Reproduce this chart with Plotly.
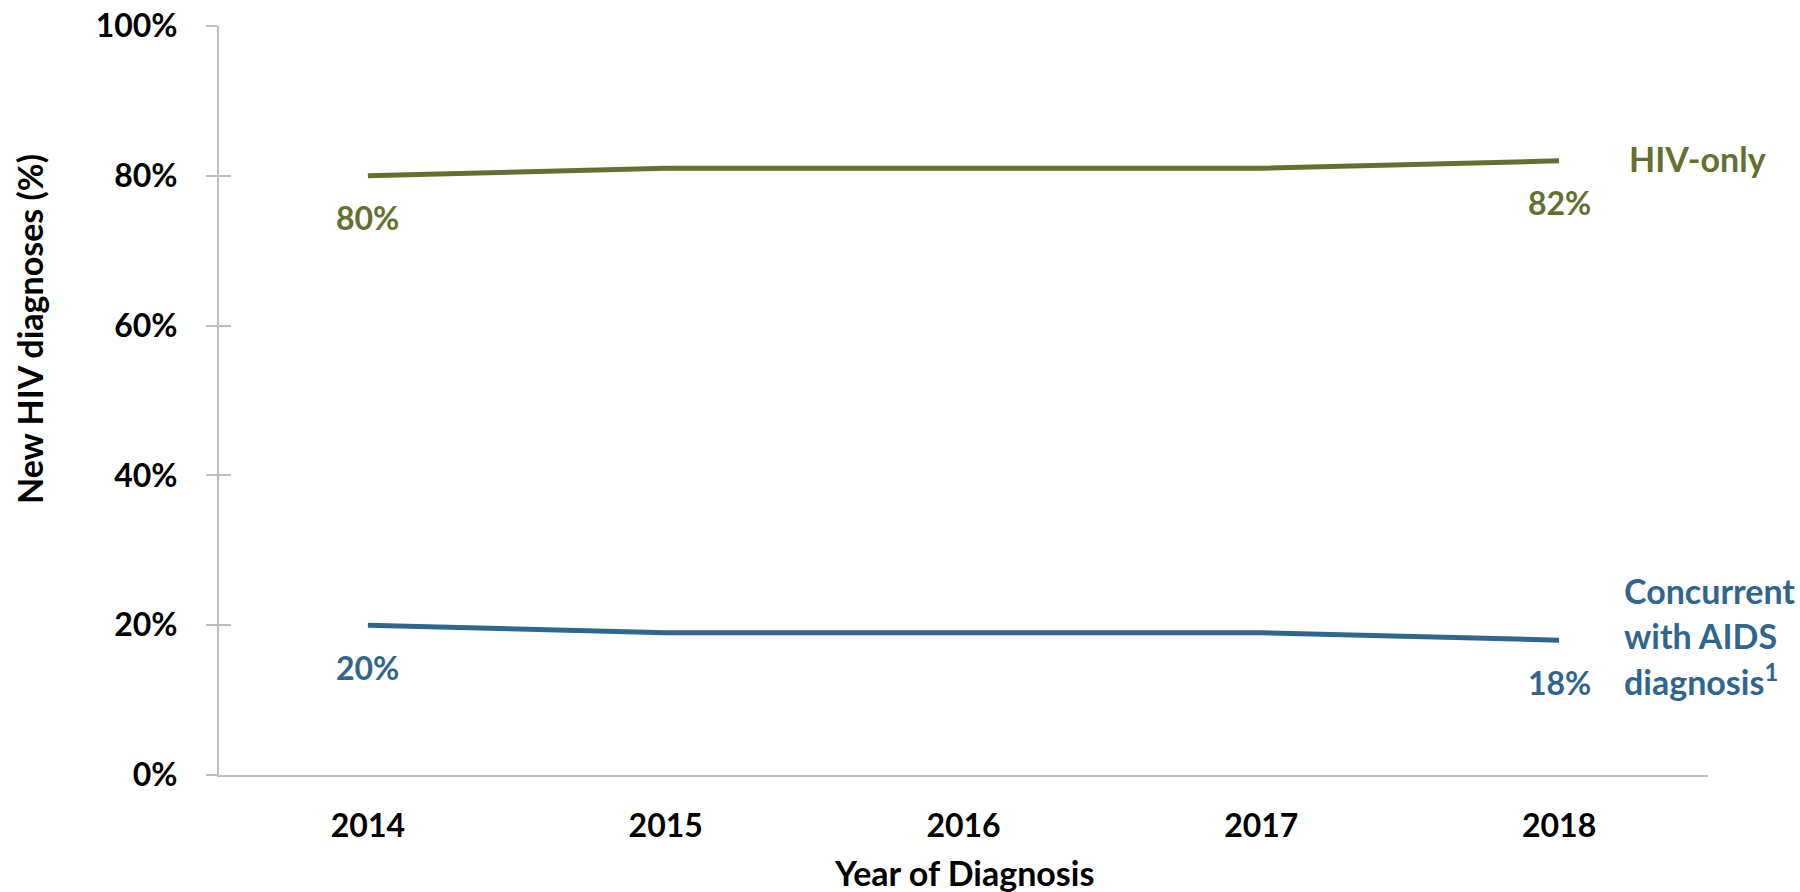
import plotly.graph_objects as go

years = ["2014", "2015", "2016", "2017", "2018"]
hiv_only = [80, 81, 81, 81, 82]
concurrent = [20, 19, 19, 19, 18]
y_ticks = [0, 20, 40, 60, 80, 100]
y_tick_labels = ["0%", "20%", "40%", "60%", "80%", "100%"]
label_points = [0, 4]

GREEN = "#64702F"
BLUE = "#2F6690"
FONT = "Lato"
FS_TICK = 32
FS_TEXT = 34

fig = go.Figure()
fig.add_trace(go.Scatter(x=years, y=hiv_only, mode="lines",
                         line=dict(color=GREEN, width=5), showlegend=False,
                         hoverinfo="skip"))
fig.add_trace(go.Scatter(x=years, y=concurrent, mode="lines",
                         line=dict(color=BLUE, width=5), showlegend=False,
                         hoverinfo="skip"))
# invisible trace on overlay axis to carry the inner tick marks
fig.add_trace(go.Scatter(x=years, y=hiv_only, yaxis="y2", mode="lines",
                         line=dict(width=0), opacity=0, showlegend=False,
                         hoverinfo="skip"))

annotations = []
for series, color in ((hiv_only, GREEN), (concurrent, BLUE)):
    for i in label_points:
        annotations.append(dict(x=i, y=series[i], xref="x", yref="y",
                                text=f"{series[i]}%", showarrow=False,
                                yshift=-42,
                                font=dict(family=FONT, size=FS_TICK, color=color, weight="bold")))

annotations.append(dict(x=0.9456, y=0.8237, xref="paper", yref="paper",
                        text="HIV-only", showarrow=False, xanchor="left", yanchor="middle",
                        font=dict(family=FONT, size=FS_TEXT, color=GREEN, weight="bold")))
for txt, yy in (("Concurrent", 0.2457), ("with AIDS", 0.1856), ("diagnosis<sup>1</sup>", 0.1268)):
    annotations.append(dict(x=0.9422, y=yy, xref="paper", yref="paper",
                            text=txt, showarrow=False, xanchor="left", yanchor="middle",
                            font=dict(family=FONT, size=FS_TEXT, color=BLUE, weight="bold")))

annotations.append(dict(x=0, y=0.5955, xref="paper", yref="paper", xshift=-189,
                        text="New HIV diagnoses (%)", textangle=-90, showarrow=False,
                        xanchor="center", yanchor="middle",
                        font=dict(family=FONT, size=FS_TEXT, color="black", weight="bold")))
annotations.append(dict(x=0.5, y=0, xref="paper", yref="paper", yshift=-97,
                        text="Year of Diagnosis", showarrow=False,
                        xanchor="center", yanchor="middle",
                        font=dict(family=FONT, size=FS_TEXT, color="black", weight="bold")))

fig.update_layout(
    width=1800, height=892,
    margin=dict(l=219, r=92, t=26, b=117, autoexpand=False),
    paper_bgcolor="white", plot_bgcolor="white",
    xaxis=dict(type="category", range=[-0.5, 4.5], showgrid=False, zeroline=False,
               showline=True, linecolor="#BDBDBD", linewidth=2, ticks="",
               ticklabelstandoff=22, automargin=False,
               tickfont=dict(family=FONT, size=FS_TICK, color="black", weight="bold")),
    yaxis=dict(range=[0, 100], tickvals=y_ticks, ticktext=y_tick_labels,
               showgrid=False, zeroline=False, showline=True, linecolor="#BDBDBD",
               linewidth=2, ticks="outside", ticklen=11, tickwidth=2, tickcolor="#BDBDBD",
               ticklabelstandoff=22, automargin=False,
               tickfont=dict(family=FONT, size=FS_TICK, color="black", weight="bold")),
    yaxis2=dict(range=[0, 100], tickvals=y_ticks, overlaying="y", side="left",
                showgrid=False, zeroline=False, showline=False, showticklabels=False,
                automargin=False,
                ticks="inside", ticklen=12, tickwidth=2, tickcolor="#BDBDBD"),
    annotations=annotations,
)

fig.write_html("out.html", config={"displayModeBar": False},
               post_script="document.body.style.margin='0';document.body.style.overflow='hidden';")
